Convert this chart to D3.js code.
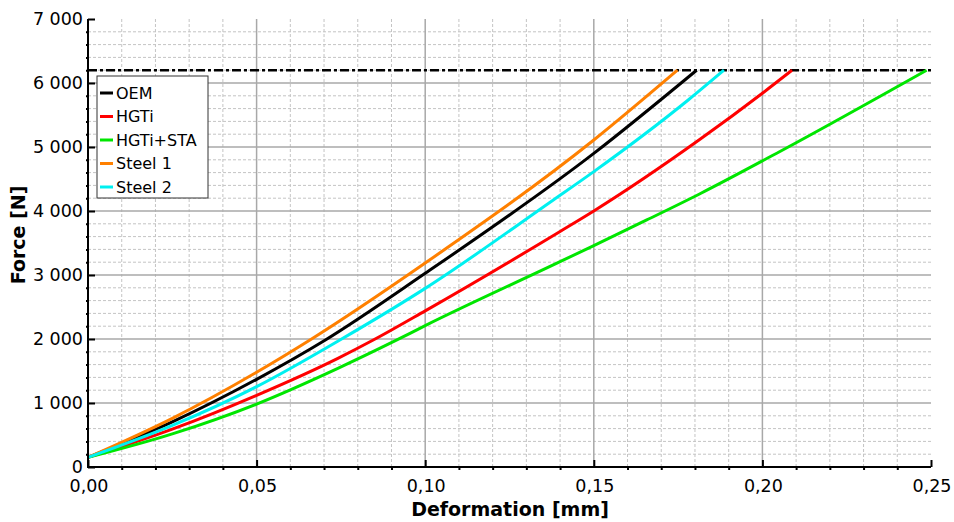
<!DOCTYPE html>
<html lang="en">
<head>
<meta charset="UTF-8">
<title>Force vs Deformation</title>
<script src="https://d3js.org/d3.v7.min.js"></script>
<style>
    body {
        margin: 0;
        padding: 0;
        background-color: #ffffff;
    }
    svg {
        display: block;
        font-family: "DejaVu Sans", Verdana, sans-serif;
    }
    .minor-grid line {
        stroke: #c4c4c4;
        stroke-width: 1;
        stroke-dasharray: 3,2;
    }
    .major-grid line {
        stroke: #a8a8a8;
        stroke-width: 1.5;
    }
</style>
</head>
<body>
<svg id="chart" width="954" height="522"></svg>
<script>
// Series data (deformation in mm, force in N)
const seriesNames = ["OEM", "HGTi", "HGTi+STA", "Steel 1", "Steel 2"];
const seriesColors = ["#000000", "#ff0000", "#00e600", "#ff8000", "#00f0f0"];

const oemDef = [0, 0.025, 0.05, 0.0704, 0.10, 0.15, 0.1805];
const oemForce = [150, 705, 1370, 1984, 3026, 4900, 6200];

const hgtiDef = [0, 0.025, 0.05, 0.0741, 0.0846, 0.10, 0.14, 0.15, 0.1815, 0.20, 0.2088];
const hgtiForce = [150, 591, 1120, 1698, 1984, 2440, 3680, 4000, 5120, 5840, 6200];

const staDef = [0, 0.025, 0.05, 0.0741, 0.091, 0.10, 0.14, 0.15, 0.1657, 0.1815, 0.2052, 0.2487];
const staForce = [150, 518, 984, 1542, 1970, 2209, 3208, 3460, 3860, 4270, 4930, 6200];

const steel1Def = [0, 0.025, 0.05, 0.0663, 0.10, 0.15, 0.1748];
const steel1Force = [150, 760, 1480, 2000, 3187, 5109, 6200];

const steel2Def = [0, 0.025, 0.05, 0.0747, 0.10, 0.138, 0.15, 0.178, 0.1886];
const steel2Force = [150, 649, 1255, 1984, 2791, 4172, 4615, 5734, 6200];

const limitForce = 6200; // dash-dot limit line

const xMajorTicks = [0, 0.05, 0.10, 0.15, 0.20, 0.25];
const yMajorTicks = [0, 1000, 2000, 3000, 4000, 5000, 6000, 7000];

const allDefs = [oemDef, hgtiDef, staDef, steel1Def, steel2Def];
const allForces = [oemForce, hgtiForce, staForce, steel1Force, steel2Force];

const svg = d3.select("#chart");
const margin = { left: 88, right: 23, top: 19, bottom: 55 };
const width = 954, height = 522;

const x = d3.scaleLinear().domain([0, 0.25]).range([margin.left, width - margin.right]);
const y = d3.scaleLinear().domain([0, 7000]).range([height - margin.bottom, margin.top]);

const locale = d3.formatLocale({ decimal: ",", thousands: " ", grouping: [3], currency: ["", ""] });
const fmtY = locale.format(",.0f");
const fmtX = locale.format(".2f");

// minor grid
const xMinor = d3.range(0, 26).map(i => i / 100).filter(v => Math.round(v * 100) % 5 !== 0);
const yMinor = d3.range(0, 36).map(i => i * 200).filter(v => v % 1000 !== 0);

svg.append("g").attr("class", "minor-grid")
    .selectAll("line.v").data(xMinor).join("line")
    .attr("x1", d => x(d)).attr("x2", d => x(d))
    .attr("y1", y(0)).attr("y2", y(7000));
svg.append("g").attr("class", "minor-grid")
    .selectAll("line.h").data(yMinor).join("line")
    .attr("x1", x(0)).attr("x2", x(0.25))
    .attr("y1", d => y(d)).attr("y2", d => y(d));

// major grid
svg.append("g").attr("class", "major-grid")
    .selectAll("line").data(xMajorTicks.filter(d => d > 0 && d < 0.25)).join("line")
    .attr("x1", d => x(d)).attr("x2", d => x(d))
    .attr("y1", y(0)).attr("y2", y(7000));
svg.append("g").attr("class", "major-grid")
    .selectAll("line").data(yMajorTicks.filter(d => d > 0 && d < 7000)).join("line")
    .attr("x1", x(0)).attr("x2", x(0.25))
    .attr("y1", d => y(d)).attr("y2", d => y(d));

// limit line
svg.append("line")
    .attr("x1", x(0)).attr("x2", x(0.25))
    .attr("y1", y(limitForce)).attr("y2", y(limitForce))
    .attr("stroke", "#000").attr("stroke-width", 2.5)
    .attr("stroke-dasharray", "9,3,3,3");

// curves
const line = d3.line()
    .x(d => x(d[0]))
    .y(d => y(d[1]))
    .curve(d3.curveMonotoneX);

seriesNames.forEach((name, i) => {
    const pts = allDefs[i].map((d, j) => [d, allForces[i][j]]);
    svg.append("path")
        .datum(pts)
        .attr("fill", "none")
        .attr("stroke", seriesColors[i])
        .attr("stroke-width", 3)
        .attr("stroke-linejoin", "round")
        .attr("d", line);
});

// axes
svg.append("g").attr("transform", `translate(0,${y(0)})`)
    .call(d3.axisBottom(x).tickValues(xMinor).tickSize(3).tickFormat(""))
    .call(g => g.select(".domain").remove());
svg.append("g").attr("transform", `translate(0,${y(0)})`)
    .call(d3.axisTop(x).tickValues(xMajorTicks).tickSize(7).tickFormat(""))
    .call(g => g.select(".domain").remove());

svg.append("g").attr("transform", `translate(${x(0)},0)`)
    .call(d3.axisLeft(y).tickValues(yMinor).tickSize(2).tickFormat(""))
    .call(g => g.select(".domain").remove());
svg.append("g").attr("transform", `translate(${x(0)},0)`)
    .call(d3.axisRight(y).tickValues(yMajorTicks).tickSize(7).tickFormat(""))
    .call(g => g.select(".domain").remove());

svg.selectAll(".tick line").attr("stroke", "#000").attr("stroke-width", 2);

svg.append("line")
    .attr("x1", x(0)).attr("x2", x(0.25))
    .attr("y1", y(0)).attr("y2", y(0))
    .attr("stroke", "#000").attr("stroke-width", 2);
svg.append("line")
    .attr("x1", x(0)).attr("x2", x(0))
    .attr("y1", y(0) + 1).attr("y2", y(7000))
    .attr("stroke", "#000").attr("stroke-width", 2);

// tick labels
svg.append("g").selectAll("text").data(yMajorTicks).join("text")
    .attr("x", x(0) - 5)
    .attr("y", d => y(d))
    .attr("dy", "0.34em")
    .attr("text-anchor", "end")
    .attr("font-size", 17.5)
    .attr("fill", "#000")
    .text(d => fmtY(d));

svg.append("g").selectAll("text").data(xMajorTicks).join("text")
    .attr("x", d => x(d) + 1)
    .attr("y", 492)
    .attr("text-anchor", "middle")
    .attr("font-size", 17.5)
    .attr("fill", "#000")
    .text(d => fmtX(d));

// axis titles
svg.append("text")
    .attr("x", 510).attr("y", 516)
    .attr("text-anchor", "middle")
    .attr("font-size", 19).attr("font-weight", "bold")
    .text("Deformation [mm]");

svg.append("text")
    .attr("transform", "translate(25,235) rotate(-90)")
    .attr("text-anchor", "middle")
    .attr("font-size", 19).attr("font-weight", "bold")
    .text("Force [N]");

// legend
const legend = svg.append("g").attr("transform", "translate(97,76)");
legend.append("rect")
    .attr("width", 111).attr("height", 122)
    .attr("fill", "#fff").attr("stroke", "#333").attr("stroke-width", 1);
seriesNames.forEach((name, i) => {
    const row = legend.append("g").attr("transform", `translate(0,${17 + i * 23.5})`);
    row.append("line")
        .attr("x1", 3).attr("x2", 16)
        .attr("stroke", seriesColors[i]).attr("stroke-width", 3);
    row.append("text")
        .attr("x", 19).attr("dy", "0.36em")
        .attr("font-size", 16)
        .attr("fill", "#000")
        .text(name);
});
</script>
</body>
</html>
